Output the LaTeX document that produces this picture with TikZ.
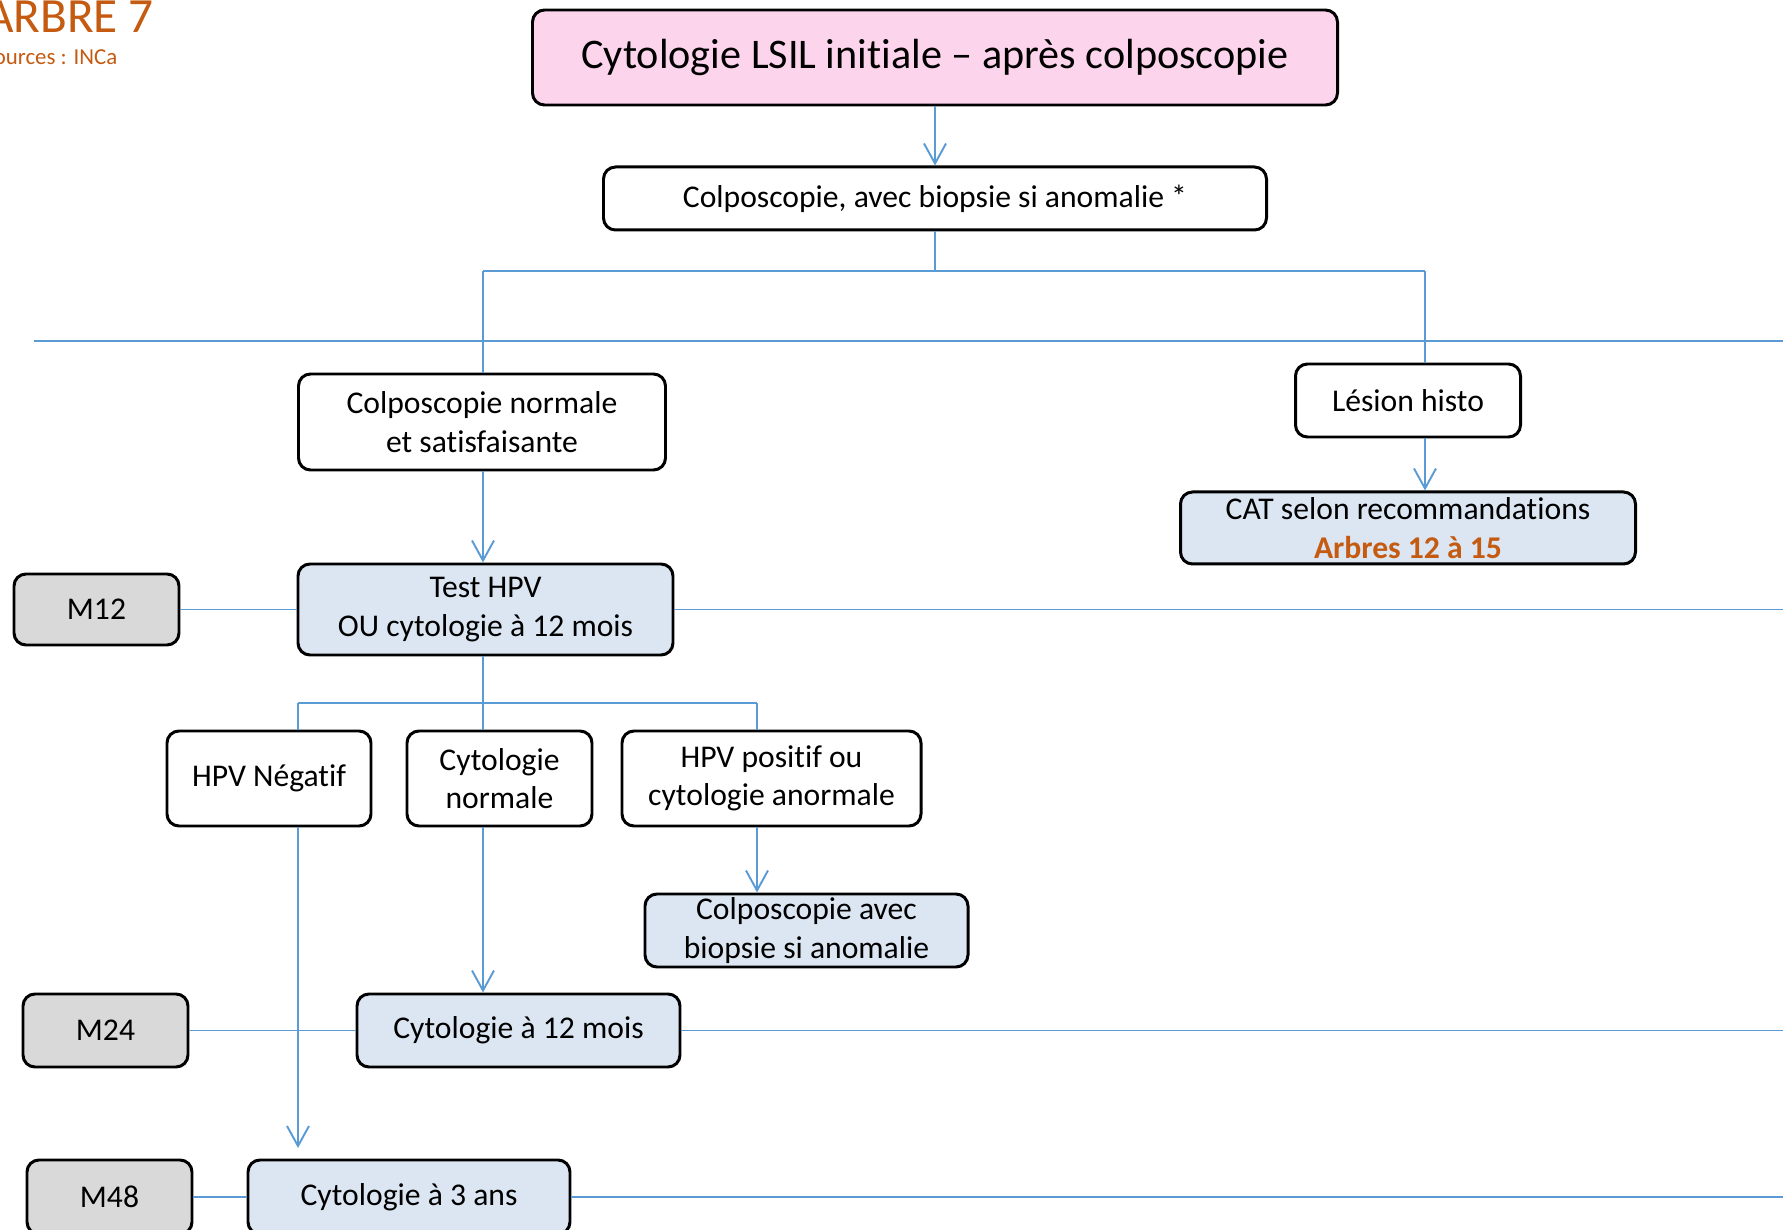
\documentclass[tikz,border=0pt]{standalone}
\usepackage{fontspec}
\setmainfont{Carlito}[Ligatures=NoCommon]
\usepackage{tikz}
\usetikzlibrary{positioning}
\usetikzlibrary{arrows.meta}

\definecolor{linkblue}{RGB}{91,155,213}
\definecolor{titlepink}{RGB}{252,213,237}
\definecolor{stageblue}{RGB}{220,230,242}
\definecolor{monthgrey}{RGB}{217,217,217}
\definecolor{arbre}{RGB}{197,90,17}

\begin{document}
\begin{tikzpicture}[
			box/.style={draw, line width=0.85pt, rounded corners=0.12cm, align=center, inner sep=1pt, font=\fontsize{9pt}{11pt}\selectfont},
			process/.style={box, fill=white},
			stage/.style={box, fill=stageblue},
			month/.style={box, fill=monthgrey, minimum width=1.65cm},
			link/.style={draw=linkblue, line width=0.55pt},
			arrow/.style={link, -{Straight Barb[length=2mm, width=2.2mm]}}
			]
			\useasboundingbox (0,0) rectangle (17.83,-12.30);
			% Header
			\node[anchor=base east, text=arbre, font=\fontsize{14pt}{16pt}\selectfont, inner sep=0pt] (arbre) at (1.545,-0.33) {ARBRE 7};
			\node[anchor=base east, text=arbre, font=\fontsize{6.5pt}{8pt}\selectfont, inner sep=0pt] (sources) at (1.18,-0.65) {Sources : INCa};
			
			% Nodes
			\node[box, fill=titlepink, minimum width=8.05cm, minimum height=0.95cm, font=\fontsize{12pt}{14pt}\selectfont] (title) at (9.35,-0.575) {Cytologie LSIL initiale -- après colposcopie};
			\node[process, below=0.59cm of title, minimum width=6.63cm, minimum height=0.63cm] (colpo) {Colposcopie, avec biopsie si anomalie *};
			\node[process, minimum width=3.67cm, minimum height=0.96cm] (normal) at (4.82,-4.22) {Colposcopie normale\\et satisfaisante};
			\node[process, minimum width=2.25cm, minimum height=0.73cm] (lesion) at (14.08,-4.005) {Lésion histo};
			\node[stage, below=0.52cm of lesion, minimum width=4.55cm, minimum height=0.72cm, inner sep=0pt] (cat) {CAT selon recommandations\\\textbf{\color{arbre}Arbres 12 à 15}};
			
			% Months
			\node[month, minimum height=0.71cm] (m12) at (0.965,-6.095) {M12};
			\node[month, minimum height=0.73cm] (m24) at (1.055,-10.305) {M24};
			\node[month, minimum height=0.74cm] (m48) at (1.095,-11.97) {M48};
			
			% Follow-up
			\node[stage, minimum width=3.75cm, minimum height=0.91cm] (test) at (4.855,-6.095) {Test HPV\\OU cytologie à 12 mois};
			\node[process, minimum width=2.04cm, minimum height=0.95cm] (hpvneg) at (2.69,-7.785) {HPV Négatif};
			\node[process, minimum width=1.85cm, minimum height=0.95cm] (cytonorm) at (4.995,-7.785) {Cytologie\\normale};
			\node[process, minimum width=2.99cm, minimum height=0.95cm] (hpvpos) at (7.715,-7.785) {HPV positif ou\\cytologie anormale};
			\node[stage, minimum width=3.23cm, minimum height=0.73cm, inner sep=0pt] (colpobis) at (8.065,-9.305) {Colposcopie avec\\biopsie si anomalie};
			\node[stage, minimum width=3.23cm, minimum height=0.73cm] (cyto12) at (5.185,-10.305) {Cytologie à 12 mois};
			\node[stage, minimum width=3.22cm, minimum height=0.74cm] (cyto3) at (4.09,-11.97) {Cytologie à 3 ans};
			
			% Branch points
			\coordinate (split) at (9.35,-2.71);
			\coordinate (lbranch) at (4.83,-2.71);
			\coordinate (rbranch) at (14.25,-2.71);
			\coordinate (sepL) at (0.34,-3.41);
			\coordinate (sepR) at (17.83,-3.41);
			\coordinate (fork) at (4.83,-7.03);
			\coordinate (forkL) at (2.98,-7.03);
			\coordinate (forkR) at (7.57,-7.03);
			\coordinate (end48) at (2.98,-11.48);
			
			% Arrows
			\draw[arrow] (title) -- (colpo);
			\draw[link] (colpo.south) -- (split);
			\draw[link] (lbranch) -- (rbranch);
			\draw[link] (sepL) -- (sepR);
			\draw[link] (lbranch) -- (normal.north -| lbranch);
			\draw[link] (rbranch) -- (lesion.north -| rbranch);
			\draw[arrow] (lesion.south -| rbranch) -- (cat.north -| rbranch);
			\draw[arrow] (normal.south -| lbranch) -- (test.north -| lbranch);
			\draw[link] (m12) -- (test);
			\draw[link] (test.east) -- (test.east -| sepR);
			\draw[link] (test.south -| fork) -- (fork);
			\draw[link] (forkL) -- (forkR);
			\draw[link] (forkL) -- (hpvneg.north -| forkL);
			\draw[link] (fork) -- (cytonorm.north -| fork);
			\draw[link] (forkR) -- (hpvpos.north -| forkR);
			\draw[arrow] (hpvpos.south -| forkR) -- (colpobis.north -| forkR);
			\draw[arrow] (cytonorm.south -| fork) -- (cyto12.north -| fork);
			\draw[arrow] (hpvneg.south -| forkL) -- (end48);
			\draw[link] (m24) -- (cyto12);
			\draw[link] (cyto12.east) -- (cyto12.east -| sepR);
			\draw[link] (m48) -- (cyto3);
			\draw[link] (cyto3.east) -- (cyto3.east -| sepR);
		\end{tikzpicture}
\end{document}
